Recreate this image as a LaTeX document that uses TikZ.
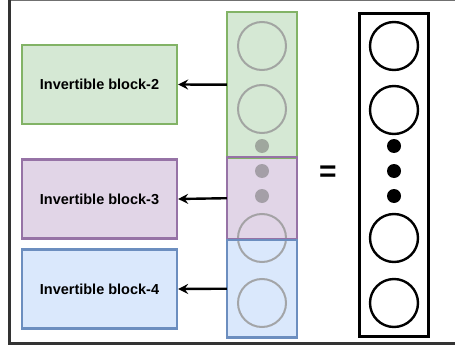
\documentclass[tikz,border=0pt]{standalone}
\usepackage{fontspec}
\setmainfont{Liberation Sans}
\usetikzlibrary{arrows.meta}
\definecolor{gfill}{HTML}{D5E8D4}
\definecolor{gline}{HTML}{82B366}
\definecolor{pfill}{HTML}{E1D5E7}
\definecolor{pline}{HTML}{9673A6}
\definecolor{bfill}{HTML}{DAE8FC}
\definecolor{bline}{HTML}{6C8EBF}
\definecolor{frame}{HTML}{333333}
\definecolor{ghost}{HTML}{9A9A9A}
\tikzset{
  blk/.style={minimum width=155pt, minimum height=79pt, line width=2.3pt, inner sep=0pt,
    font=\fontsize{14.5}{17}\selectfont\bfseries},
  colseg/.style={minimum width=70pt, inner sep=0pt, anchor=north},
  ghostc/.style={draw=ghost, draw opacity=0.85, line width=2pt},
  ghostd/.style={fill=black!55, fill opacity=0.55},
  realc/.style={draw=black, line width=2.4pt},
  reald/.style={fill=black},
  conn/.style={line width=2.4pt, -{Stealth[length=10pt, width=10pt, inset=3.5pt]}},
}
\begin{document}
\begin{tikzpicture}[x=1pt, y=-1pt]
\useasboundingbox (0,0) rectangle (455,345);
\fill[white] (0,0) rectangle (455,345);
% frame
\draw[frame!70, line width=1.2pt] (9.5,0.6) -- (455,0.6);
\draw[frame, line width=3.2pt] (9.5,0) -- (9.5,343.4) -- (455,343.4);

% blocks
\node[blk, fill=gfill, draw=gline] (b2) at (99.5,84.5) {Invertible block-2};
\node[blk, fill=pfill, draw=pline] (b3) at (99.5,199) {Invertible block-3};
\node[blk, fill=bfill, draw=bline] (b4) at (99.5,289) {Invertible block-4};

% column fills
\node[colseg, fill=gfill, minimum height=145pt] (c2) at (262,12) {};
\node[colseg, fill=pfill, minimum height=82pt] (c3) at (262,157) {};
\node[colseg, fill=bfill, minimum height=97pt] (c4) at (262,240) {};

% ghost neurons
\node[circle, ghostc, minimum size=48pt, inner sep=0pt] (g1) at (262,46) {};
\node[circle, ghostc, minimum size=48pt, inner sep=0pt] (g2) at (262,109) {};
\node[circle, ghostd, minimum size=14pt, inner sep=0pt] (gd1) at (262,146) {};
\node[circle, ghostd, minimum size=14pt, inner sep=0pt] (gd2) at (262,171) {};
\node[circle, ghostd, minimum size=14pt, inner sep=0pt] (gd3) at (262,196) {};
\node[circle, ghostc, minimum size=48pt, inner sep=0pt] (g3) at (262,238) {};
\node[circle, ghostc, minimum size=48pt, inner sep=0pt] (g4) at (262,303) {};

% column borders
\draw[gline, line width=2.3pt] (c2.north west) rectangle (c2.south east);
\draw[pline, line width=2.3pt] (c3.north west) rectangle (c3.south east);
\draw[bline, line width=2.3pt] (c4.north west) rectangle (c4.south east);

% arrows
\draw[conn] (c2.west) -- (b2.east);
\draw[conn] (c3.west) -- (b3.east);
\draw[conn] (c4.west) -- (b4.east);

% equals
\node[font=\fontsize{30}{30}\selectfont\bfseries] (eq) at (328,174) {=};

% real layer
\node[draw=black, line width=3.4pt, minimum width=69pt, minimum height=323pt, inner sep=0pt] (layer) at (394,175) {};
\node[circle, realc, minimum size=48pt, inner sep=0pt] (r1) at (394,46) {};
\node[circle, realc, minimum size=48pt, inner sep=0pt] (r2) at (394,110) {};
\node[circle, reald, minimum size=14pt, inner sep=0pt] (rd1) at (394,146) {};
\node[circle, reald, minimum size=14pt, inner sep=0pt] (rd2) at (394,171) {};
\node[circle, reald, minimum size=14pt, inner sep=0pt] (rd3) at (394,196) {};
\node[circle, realc, minimum size=48pt, inner sep=0pt] (r3) at (394,238) {};
\node[circle, realc, minimum size=48pt, inner sep=0pt] (r4) at (394,303) {};
\end{tikzpicture}
\end{document}
